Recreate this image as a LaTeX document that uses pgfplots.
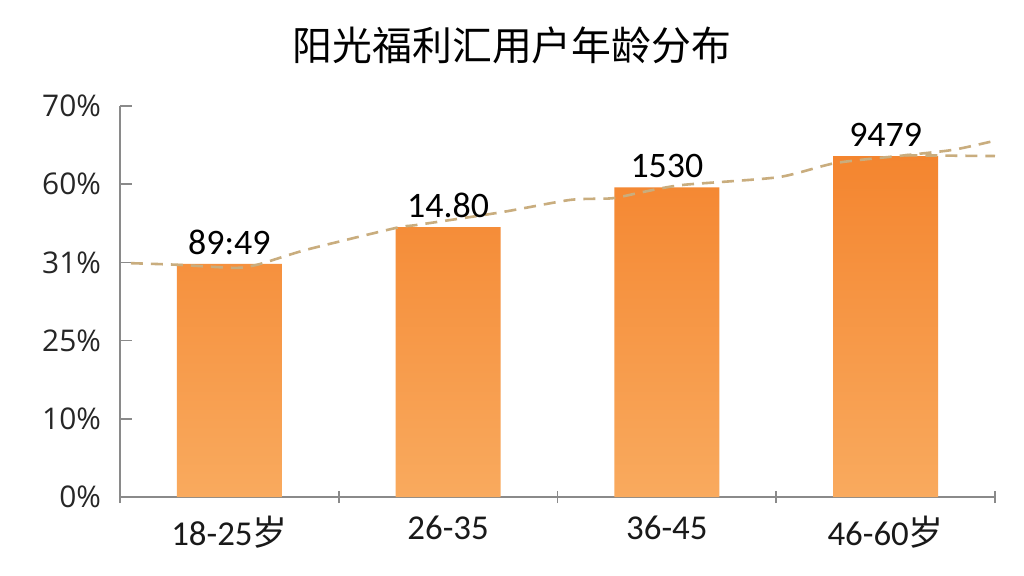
\documentclass[border=0pt]{standalone}
\usepackage{pgfplots}
\pgfplotsset{compat=1.18}
\usepackage{fontspec}
\setmainfont{Carlito}
\newfontfamily\cjk{Noto Sans CJK SC}
\newfontfamily\osans{Open Sans}
\definecolor{axisgray}{HTML}{8A8A8A}
\definecolor{bartop}{HTML}{F4852F}
\definecolor{barbot}{HTML}{F9AA5E}
\definecolor{trend}{HTML}{C9AD7E}

\begin{document}
\begin{tikzpicture}
\fill[white] (0,0) rectangle (512bp,288bp);
\begin{axis}[
    at={(60bp,39.5bp)}, anchor=south west,
    width=437.5bp, height=195.5bp, scale only axis,
    xmin=-0.5, xmax=3.5, ymin=0, ymax=5,
    axis x line*=bottom, axis y line*=left,
    axis line style={axisgray, line width=0.8bp},
    every tick/.style={axisgray, line width=0.8bp},
    ytick={0,1,2,3,4,5},
    yticklabels={0\%,10\%,25\%,31\%,60\%,70\%},
    ytick align=inside,
    yticklabel style={font=\osans\fontsize{15}{15}\selectfont, text=black!85, xshift=-6bp},
    xtick={-0.5,0.5,1.5,2.5,3.5},
    xticklabels={},
    xtick align=center,
    extra x ticks={0,1,2,3},
    extra x tick labels={18-25{\cjk 岁},26-35,36-45,46-60{\cjk 岁}},
    extra x tick style={major tick length=0pt,
        xticklabel style={font=\fontsize{17.5}{17.5}\selectfont, text=black!90, yshift=-6bp}},
    major tick length=6bp,
    clip=false,
]
\addplot[ybar, bar width=0.48, draw=none, top color=bartop, bottom color=barbot,
    point meta=explicit symbolic,
    nodes near coords,
    every node near coord/.append style={font=\fontsize{18}{18}\selectfont, text=black, inner sep=0pt, yshift=4.5bp},
    ]
    coordinates {
    (0,2.98)[89:49] (1,3.45)[14.80] (2,3.96)[1530] (3,4.36)[9479]
    };
\addplot[trend, line width=1.3bp, dash pattern=on 6bp off 4bp, smooth, tension=0.4]
    coordinates {
    (-0.45,2.99)(-0.24,2.97)(0.03,2.93)(0.14,2.98)(0.35,3.16)(0.76,3.44)(0.86,3.48)
    (1.24,3.64)(1.56,3.80)(1.75,3.82)(1.89,3.90)(2.07,3.99)(2.51,4.09)(2.77,4.27)
    (3.09,4.37)(3.31,4.44)(3.49,4.55)
    };
\addplot[trend, line width=1.3bp, dash pattern=on 6bp off 4bp]
    coordinates {
    (3.09,4.37)(3.50,4.36)
    };
\end{axis}
\node at (256bp,265.5bp) {\cjk\fontsize{20}{21}\selectfont 阳光福利汇用户年龄分布};
\pgfresetboundingbox
\path[use as bounding box] (0,0) rectangle (512bp,288bp);
\end{tikzpicture}
\end{document}
